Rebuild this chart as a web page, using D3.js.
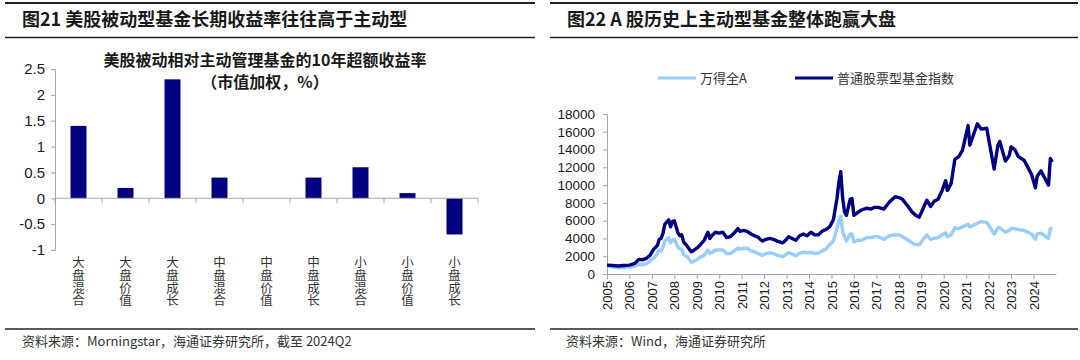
<!DOCTYPE html>
<html><head><meta charset="utf-8">
<script src="https://cdn.jsdelivr.net/npm/d3@7/dist/d3.min.js"></script>
<style>
html,body{margin:0;padding:0;background:#fff;}
svg{display:block;}
text{font-family:"Noto Sans CJK SC","Noto Sans",sans-serif;}
.num{font-family:"Liberation Sans",Arial,sans-serif;}
.vert{writing-mode:vertical-rl;text-orientation:upright;}
</style></head>
<body>
<svg id="c" width="1080" height="360"></svg>
<script>
// ---------- Left chart data ----------
const categories = ["大盘混合","大盘价值","大盘成长","中盘混合","中盘价值","中盘成长","小盘混合","小盘价值","小盘成长"];
const excessReturn = [1.4, 0.2, 2.3, 0.4, 0.0, 0.4, 0.6, 0.1, -0.7];
const leftTicks = [-1, -0.5, 0, 0.5, 1, 1.5, 2, 2.5];

// ---------- Right chart data ----------
const dates = ["2005-01","2005-04","2005-07","2005-10","2006-01","2006-04","2006-06","2006-08","2006-10","2006-12",
"2007-02","2007-04","2007-05","2007-06","2007-07","2007-08","2007-10","2007-11","2007-12","2008-01",
"2008-02","2008-03","2008-04","2008-05","2008-06","2008-08","2008-10","2008-11","2009-01","2009-03",
"2009-05","2009-07","2009-08","2009-09","2009-11","2010-01","2010-03","2010-05","2010-07","2010-09",
"2010-11","2010-12","2011-02","2011-04","2011-06","2011-08","2011-10","2011-12","2012-02","2012-04",
"2012-06","2012-08","2012-11","2013-01","2013-02","2013-04","2013-06","2013-08","2013-10","2013-12",
"2014-02","2014-04","2014-06","2014-08","2014-10","2014-12","2015-02","2015-04","2015-05","2015-06",
"2015-07","2015-08","2015-09","2015-11","2015-12","2016-01","2016-03","2016-05","2016-08","2016-10",
"2016-12","2017-02","2017-05","2017-08","2017-11","2018-01","2018-03","2018-06","2018-08","2018-10",
"2018-12","2019-02","2019-04","2019-06","2019-08","2019-10","2019-12","2020-02","2020-03","2020-05",
"2020-07","2020-09","2020-11","2021-02","2021-03","2021-05","2021-07","2021-09","2021-12","2022-01",
"2022-04","2022-06","2022-07","2022-10","2022-12","2023-01","2023-03","2023-05","2023-08","2023-10",
"2023-12","2024-02","2024-03","2024-05","2024-07","2024-09","2024-10","2024-11"];
const windA = [900,820,700,720,780,900,1100,1050,1150,1450,
1800,2300,2700,2600,3000,3700,4100,3500,3800,3900,
3500,3000,2800,2800,2200,1900,1350,1400,1600,1900,
2100,2700,2300,2400,2700,2700,2700,2300,2300,2600,
2900,2800,2900,2900,2600,2500,2300,2100,2300,2400,
2300,2100,1950,2250,2400,2250,2050,2350,2450,2400,
2450,2300,2350,2600,2800,3300,3700,5200,6000,6500,
4800,4200,3700,4500,4500,3600,3800,3800,4100,4100,
4200,4200,3900,4300,4400,4400,4200,3800,3500,3300,
3300,3900,4400,3900,4000,4100,4400,4600,4200,4400,
5200,5100,5300,5600,5300,5500,5700,5900,5800,5500,
4500,5200,5200,4700,4900,5100,5100,5000,4900,4700,
4500,3900,4500,4600,4300,4000,5100,5200];
const fundIndex = [1000,950,900,950,1000,1200,1650,1600,1750,2100,
2800,3200,3900,4000,4600,5600,6100,5300,5900,6000,
5300,4600,4300,4400,3600,3100,2500,2600,2900,3300,
3800,4700,4000,4300,4700,4600,4700,4100,4200,4600,
5100,4800,4900,4800,4500,4300,4100,3700,3900,4000,
3900,3700,3500,3900,4200,4000,3800,4300,4500,4300,
4700,4400,4400,4800,5000,5300,6100,8500,10300,11500,
8600,7000,6600,8400,8500,6600,6900,7200,7400,7300,
7500,7500,7300,8100,8700,8600,8400,7600,7000,6600,
6400,7400,8300,7600,8200,8400,9300,10500,9400,10200,
12900,13200,13900,16700,14500,15700,16900,16300,16400,15200,
11800,14500,14900,12700,13300,14300,14000,13200,12800,12000,
11200,9700,11000,11600,10800,10000,13000,12600];
const yearTicks = d3.range(2005, 2025);
const rightTicks = d3.range(0, 18001, 2000);

const svg = d3.select("#c");
const ink = "#1a1a1a";

// ---------- Frame / titles ----------
function frame(x0, x1, title) {
  svg.append("line").attr("x1", x0).attr("x2", x1).attr("y1", 3).attr("y2", 3).attr("stroke", "#222").attr("stroke-width", 2);
  svg.append("line").attr("x1", x0).attr("x2", x1).attr("y1", 37.5).attr("y2", 37.5).attr("stroke", "#222").attr("stroke-width", 1.5);
  svg.append("line").attr("x1", x0).attr("x2", x1).attr("y1", 329).attr("y2", 329).attr("stroke", "#222").attr("stroke-width", 1.5);
  svg.append("text").attr("x", x0 + 17).attr("y", 26).attr("font-size", 18).attr("font-weight", 700).attr("fill", ink).text(title);
}
frame(5, 535, "图21 美股被动型基金长期收益率往往高于主动型");
frame(550, 1078, "图22 A 股历史上主动型基金整体跑赢大盘");

svg.append("text").attr("x", 22).attr("y", 346).attr("font-size", 13).attr("fill", "#333").text("资料来源：Morningstar，海通证券研究所，截至 2024Q2");
svg.append("text").attr("x", 566).attr("y", 346).attr("font-size", 13).attr("fill", "#333").text("资料来源：Wind，海通证券研究所");

// ---------- Left chart ----------
const xL = d3.scaleBand().domain(categories).range([55, 478]).paddingInner(0.66).paddingOuter(0.33);
const yL = d3.scaleLinear().domain([-1, 2.5]).range([250, 69]);

svg.append("text").attr("x", 265).attr("y", 66).attr("text-anchor", "middle").attr("font-size", 16).attr("font-weight", 700).attr("fill", ink).text("美股被动相对主动管理基金的10年超额收益率");
svg.append("text").attr("x", 265).attr("y", 88).attr("text-anchor", "middle").attr("font-size", 16).attr("font-weight", 700).attr("fill", ink).text("（市值加权，%）");

const gyL = svg.append("g").attr("transform", "translate(55,0)")
  .call(d3.axisLeft(yL).tickValues(leftTicks).tickFormat(d => String(d)).tickSize(4).tickPadding(6));
gyL.select(".domain").attr("stroke", "#a6a6a6");
gyL.selectAll(".tick line").attr("stroke", "#a6a6a6");
gyL.selectAll(".tick text").attr("class", "num").attr("font-size", 15).attr("fill", ink);

svg.append("g").selectAll("rect").data(categories).join("rect")
  .attr("x", d => xL(d))
  .attr("width", xL.bandwidth())
  .attr("y", (d, i) => yL(Math.max(0, excessReturn[i])))
  .attr("height", (d, i) => Math.abs(yL(excessReturn[i]) - yL(0)))
  .attr("fill", "#000080");

// zero axis with band boundary ticks
const step = xL.step();
svg.append("line").attr("x1", 55).attr("x2", 478).attr("y1", yL(0)).attr("y2", yL(0)).attr("stroke", "#a6a6a6");
const bounds = categories.map(c => xL(c) - step * xL.paddingInner() / 2).concat([xL(categories[categories.length - 1]) + xL.bandwidth() + step * xL.paddingInner() / 2]);
svg.append("g").selectAll("line").data(bounds).join("line")
  .attr("x1", d => d).attr("x2", d => d).attr("y1", yL(0)).attr("y2", yL(0) + 5).attr("stroke", "#a6a6a6");

// vertical category labels (vertical writing mode)
svg.append("g").selectAll("text").data(categories).join("text")
  .attr("class", "vert")
  .attr("x", c => xL(c) + xL.bandwidth() / 2)
  .attr("y", 256)
  .attr("font-size", 12.5).attr("letter-spacing", 0.3).attr("fill", "#333")
  .text(c => c);

// ---------- Right chart ----------
const parse = d3.timeParse("%Y-%m");
const xR = d3.scaleTime().domain([new Date(2005, 0, 1), new Date(2025, 0, 1)]).range([607, 1056]);
const yR = d3.scaleLinear().domain([0, 18000]).range([274, 114]);

const gyR = svg.append("g").attr("transform", "translate(607,0)")
  .call(d3.axisLeft(yR).tickValues(rightTicks).tickFormat(d3.format("d")).tickSize(4).tickPadding(8));
gyR.select(".domain").attr("stroke", "#a6a6a6");
gyR.selectAll(".tick line").attr("stroke", "#a6a6a6");
gyR.selectAll(".tick text").attr("class", "num").attr("font-size", 13.5).attr("fill", ink);

const gxR = svg.append("g").attr("transform", "translate(0,274)")
  .call(d3.axisBottom(xR).tickValues(yearTicks.map(y => new Date(y, 0, 1))).tickFormat(d3.timeFormat("%Y")).tickSize(5).tickSizeOuter(0));
gxR.select(".domain").attr("stroke", "#a6a6a6");
gxR.selectAll(".tick line").attr("stroke", "#a6a6a6");
gxR.selectAll(".tick text").attr("class", "num").attr("font-size", 13).attr("fill", ink)
  .attr("transform", "rotate(-90)").attr("text-anchor", "end").attr("x", -7).attr("y", 0).attr("dy", "0.35em");

const line = vals => d3.line().x((d, i) => xR(parse(d))).y((d, i) => yR(vals[i]))(dates);
svg.append("path").attr("d", line(windA)).attr("fill", "none").attr("stroke", "#99ccff").attr("stroke-width", 3.4).attr("stroke-linejoin", "round");
svg.append("path").attr("d", line(fundIndex)).attr("fill", "none").attr("stroke", "#000080").attr("stroke-width", 3.4).attr("stroke-linejoin", "round");

// legend
const legend = [["万得全A", "#99ccff", 658], ["普通股票型基金指数", "#000080", 795]];
legend.forEach(([name, col, lx]) => {
  svg.append("line").attr("x1", lx).attr("x2", lx + 38).attr("y1", 78).attr("y2", 78).attr("stroke", col).attr("stroke-width", 3);
  svg.append("text").attr("x", lx + 42).attr("y", 82.5).attr("font-size", 13).attr("fill", "#333").text(name);
});
</script>
</body></html>
